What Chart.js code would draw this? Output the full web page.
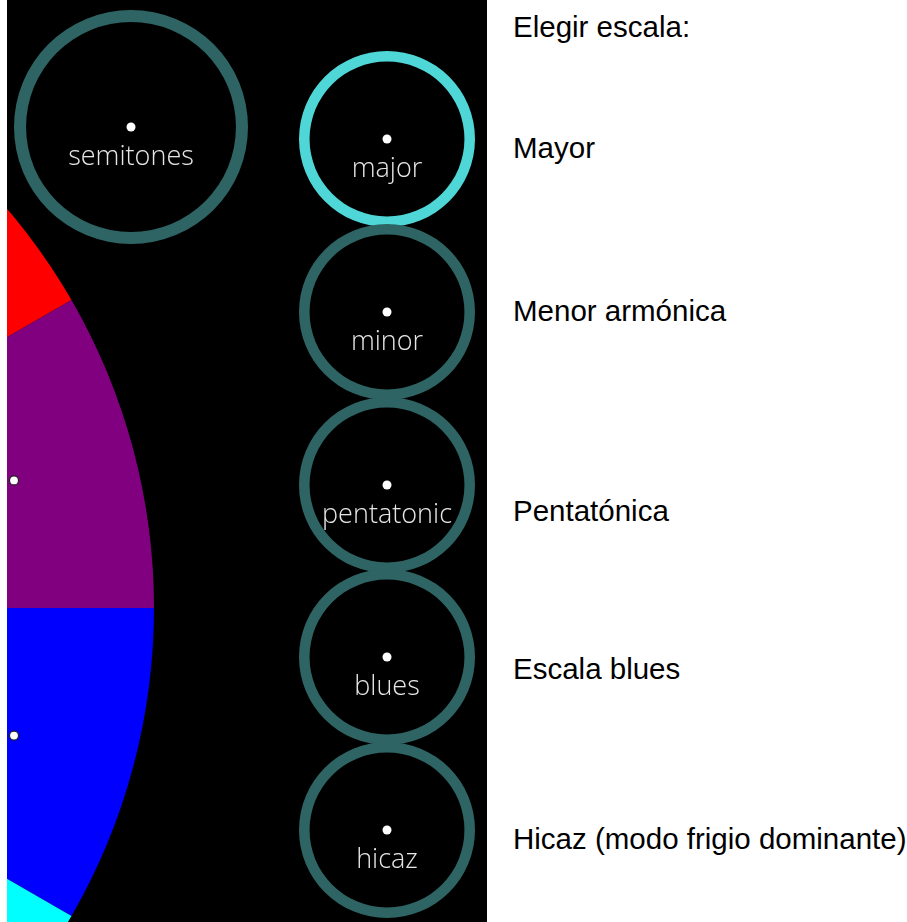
<!DOCTYPE html>
<html>
<head>
<meta charset="utf-8">
<script src="https://cdn.jsdelivr.net/npm/chart.js@4"></script>
<style>
  body { margin: 0; background: #fff; width: 907px; height: 922px; overflow: hidden; position: relative;
         font-family: "Liberation Sans", Arial, sans-serif; }
  #stage { position: absolute; left: 7px; top: 0; width: 480px; height: 922px; background: #000; overflow: hidden; }
  #stage canvas { position: absolute; }
  .opt { position: absolute; left: 513px; font-size: 29.5px; line-height: 29px; color: #000; white-space: nowrap; }
</style>
</head>
<body>
<div id="stage">
  <canvas id="wheel" width="1232" height="1232" style="left:-1085px;top:-8px"></canvas>
  <canvas id="semitones" width="234" height="234" style="left:7px;top:10px"></canvas>
  <canvas id="major" width="176" height="176" style="left:292px;top:51px"></canvas>
  <canvas id="minor" width="176" height="176" style="left:292px;top:224px"></canvas>
  <canvas id="pentatonic" width="176" height="176" style="left:292px;top:397px"></canvas>
  <canvas id="blues" width="176" height="176" style="left:292px;top:569px"></canvas>
  <canvas id="hicaz" width="176" height="176" style="left:292px;top:742px"></canvas>
</div>
<div class="opt" style="top:12px">Elegir escala:</div>
<div class="opt" style="top:133px">Mayor</div>
<div class="opt" style="top:296px">Menor armónica</div>
<div class="opt" style="top:496px">Pentatónica</div>
<div class="opt" style="top:654px">Escala blues</div>
<div class="opt" style="top:824px">Hicaz (modo frigio dominante)</div>

<script>
// the 12 semitones of the wheel
const noteNames = ['C', 'C#', 'D', 'D#', 'E', 'F', 'F#', 'G', 'G#', 'A', 'A#', 'B'];
const semitoneValues = [1, 1, 1, 1, 1, 1, 1, 1, 1, 1, 1, 1];
const semitoneColors = ['#ff8000', '#ff0000', '#800080', '#0000ff', '#00ffff', '#008000',
                        '#00ff00', '#ffff00', '#ffd700', '#a52a2a', '#ffc0cb', '#ff00ff'];

// scale buttons
const scaleKeys = ['major', 'minor', 'pentatonic', 'blues', 'hicaz'];
const selectedScale = 'major';

const ringColor = '#2e6464';
const activeColor = '#4fd6d6';

const noteDots = {
  id: 'noteDots',
  afterDatasetsDraw(chart) {
    const ctx = chart.ctx;
    chart.getDatasetMeta(0).data.forEach(a => {
      const mid = (a.startAngle + a.endAngle) / 2;
      const r = a.outerRadius * 0.8;
      ctx.save();
      ctx.beginPath();
      ctx.arc(a.x + Math.cos(mid) * r, a.y + Math.sin(mid) * r, 4.5, 0, Math.PI * 2);
      ctx.fillStyle = '#fff';
      ctx.fill();
      ctx.lineWidth = 1.2;
      ctx.strokeStyle = '#222';
      ctx.stroke();
      ctx.restore();
    });
  }
};

const centerLabel = {
  id: 'centerLabel',
  afterDraw(chart) {
    const ctx = chart.ctx;
    const arc = chart.getDatasetMeta(0).data[0];
    ctx.save();
    ctx.beginPath();
    ctx.arc(arc.x, arc.y, 4.5, 0, Math.PI * 2);
    ctx.fillStyle = '#fff';
    ctx.fill();
    ctx.font = '300 27px "Open Sans"';
    ctx.textAlign = 'center';
    ctx.textBaseline = 'alphabetic';
    ctx.fillStyle = '#e6e6e6';
    ctx.fillText(chart.data.labels[0], arc.x, arc.y + 38);
    ctx.restore();
  }
};

new Chart(document.getElementById('wheel'), {
  type: 'pie',
  data: {
    labels: noteNames,
    datasets: [{ data: semitoneValues, backgroundColor: semitoneColors, borderWidth: 0 }]
  },
  options: {
    responsive: false,
    animation: false,
    events: [],
    plugins: { legend: { display: false }, tooltip: { enabled: false } }
  },
  plugins: [noteDots]
});

function ring(id, color, cutout) {
  return new Chart(document.getElementById(id), {
    type: 'doughnut',
    data: {
      labels: [id],
      datasets: [{ data: [1], backgroundColor: color, borderWidth: 0 }]
    },
    options: {
      responsive: false,
      animation: false,
      events: [],
      cutout: cutout,
      plugins: { legend: { display: false }, tooltip: { enabled: false } }
    },
    plugins: [centerLabel]
  });
}

ring('semitones', ringColor, '89.7%');
scaleKeys.forEach(k => {
  ring(k, k === selectedScale ? activeColor : ringColor, '88%');
});
</script>
</body>
</html>
